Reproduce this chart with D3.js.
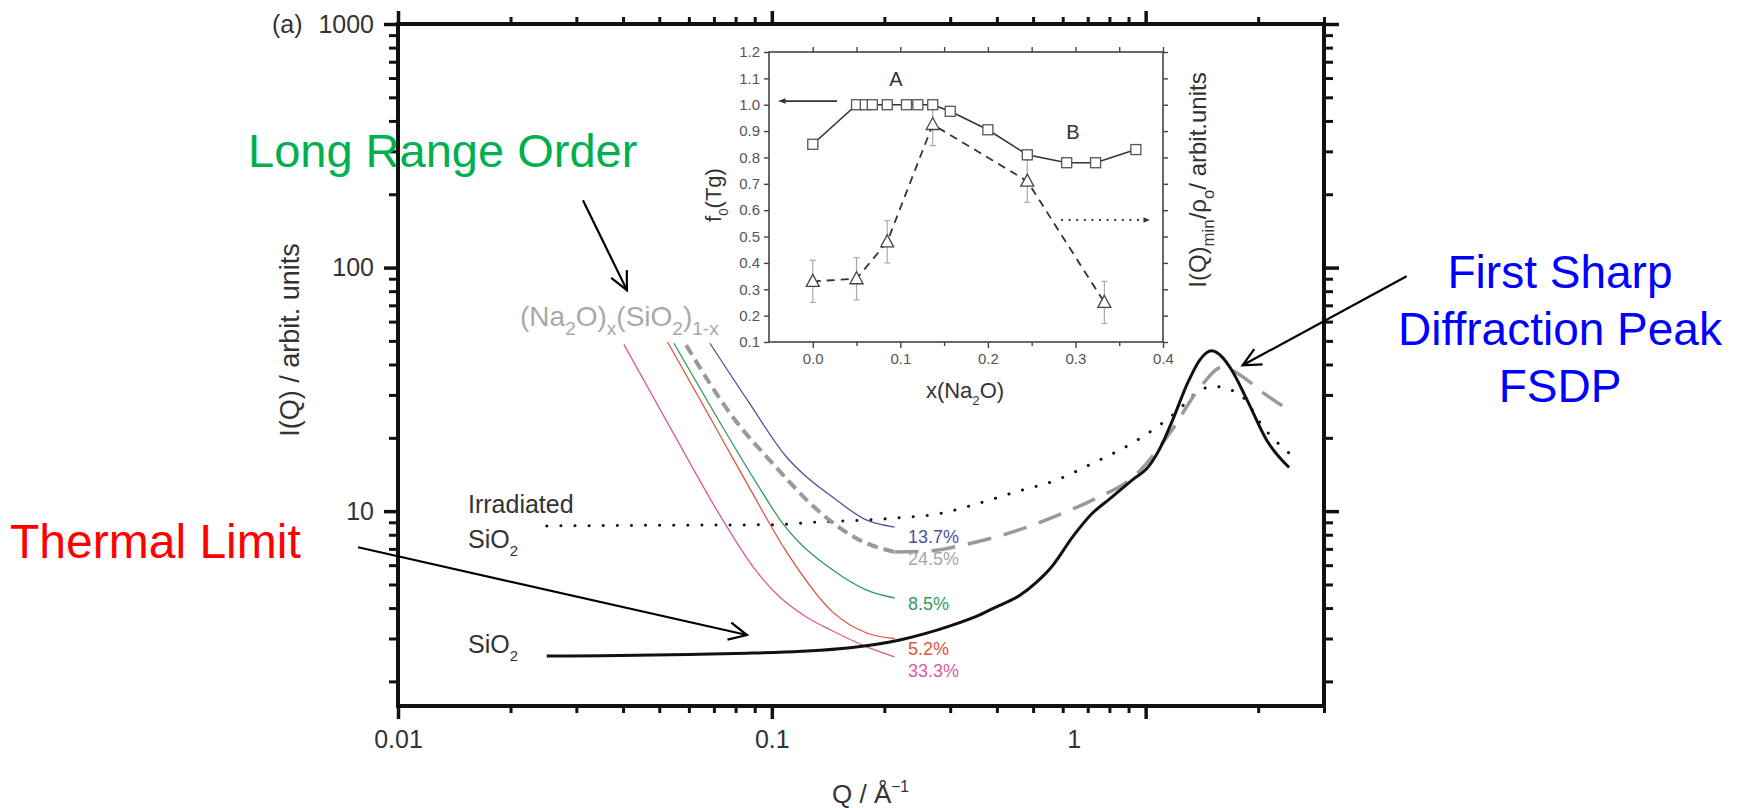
<!DOCTYPE html>
<meta charset="utf-8">
<style>
body { margin: 0; background: #fff; }
text { font-family: "Liberation Sans", Arial, sans-serif; }
</style>
<body>
<script src="https://cdn.jsdelivr.net/npm/d3@7"></script>
<script>
// ---------- main plot data : Q (1/A) and I(Q) (arbit. units) ----------
var qDomain = [0.01, 3];
var iDomain = [1.585, 1000];
var qMajor = [0.01, 0.1, 1];
var iMajor = [10, 100, 1000];

// SiO2, solid black
var silicaQ = [0.025, 0.035, 0.06, 0.086, 0.12, 0.162, 0.22, 0.30, 0.36, 0.395, 0.46, 0.51, 0.56, 0.64, 0.72, 0.80, 0.92, 1.02, 1.10, 1.18, 1.30, 1.40, 1.50, 1.60, 1.70, 1.87, 2.11, 2.42];
var silicaI = [2.54, 2.55, 2.58, 2.61, 2.66, 2.75, 2.96, 3.38, 3.75, 4.02, 4.5, 5.1, 5.9, 7.9, 9.8, 11.2, 13.4, 15.3, 18.5, 23.6, 34, 42, 45.5, 43, 37.9, 28.5, 19.5, 15.1];

// Irradiated SiO2, dotted
var irradQ = [0.025, 0.05, 0.1, 0.13, 0.213, 0.284, 0.36, 0.45, 0.576, 0.72, 0.92, 1.07, 1.2, 1.4, 1.52, 1.63, 1.82, 2.07, 2.42];
var irradI = [8.7, 8.75, 8.8, 9.0, 9.36, 9.8, 10.8, 12.0, 13.4, 15.7, 19, 22.1, 25.3, 31.4, 32.5, 32, 29.4, 22, 17.3];

// 24.5% wide angle part, long grey dashes
var wideQ = [0.213, 0.26, 0.33, 0.45, 0.6, 0.72, 0.95, 1.16, 1.4, 1.6, 1.75, 1.87, 2.1, 2.42];
var wideI = [6.8, 6.85, 7.3, 8.3, 9.8, 11.1, 14.3, 20.9, 32.3, 39, 37, 34.5, 30, 26];

// small angle curves of (Na2O)x(SiO2)1-x
var saxsNames = ["13.7%", "24.5%", "8.5%", "5.2%", "33.3%"];
var saxsColors = ["#4f4fa0", "#9a9a9a", "#2f9b60", "#e2533a", "#dc5aa0"];
var saxsQ = [
  [0.0683, 0.0872, 0.1096, 0.124, 0.1456, 0.1795, 0.213],
  [0.059, 0.0787, 0.1005, 0.1325, 0.172, 0.213],
  [0.0547, 0.0713, 0.0911, 0.1068, 0.1456, 0.1795, 0.213],
  [0.0526, 0.0683, 0.0858, 0.1096, 0.1456, 0.1795, 0.213],
  [0.0402, 0.0545, 0.0748, 0.0892, 0.105, 0.124, 0.1456, 0.1795, 0.213]
];
var saxsI = [
  [48.9, 27.7, 16.65, 13.8, 11.4, 9.18, 8.6],
  [48, 24.3, 15.7, 10.1, 7.6, 6.8],
  [48.9, 24.3, 13.0, 8.93, 5.73, 4.74, 4.4],
  [49.5, 24.3, 13.0, 6.79, 3.85, 3.16, 3.0],
  [48.4, 20.9, 8.93, 5.89, 4.44, 3.67, 3.22, 2.77, 2.52]
];

// ---------- inset data ----------
var naDomain = [-0.05, 0.4];
var fDomain = [0.1, 1.2];
var naMajor = [0, 0.1, 0.2, 0.3, 0.4];
var naMinor = [0.05, 0.15, 0.25, 0.35];
var fTicks = [0.1, 0.2, 0.3, 0.4, 0.5, 0.6, 0.7, 0.8, 0.9, 1.0, 1.1, 1.2];

var squareX = [0, 0.05, 0.06, 0.068, 0.085, 0.107, 0.12, 0.137, 0.157, 0.2, 0.245, 0.29, 0.323, 0.369];
var squareF = [0.85, 1.0, 1.0, 1.0, 1.0, 1.0, 1.0, 1.0, 0.975, 0.905, 0.81, 0.78, 0.78, 0.83];
var triX = [0, 0.05, 0.085, 0.137, 0.245, 0.333];
var triV = [0.33, 0.34, 0.48, 0.925, 0.71, 0.25];
var triErr = [0.08, 0.08, 0.08, 0.08, 0.08, 0.08];

// ---------- drawing ----------
var svg = d3.select("body").append("svg")
    .attr("width", 1744)
    .attr("height", 808);

var x = d3.scaleLog().domain(qDomain).range([398, 1324]);
var y = d3.scaleLog().domain(iDomain).range([706, 24]);

var isMajor = function(v) { return Math.abs(Math.log10(v) - Math.round(Math.log10(v))) < 1e-6; };
var qMinor = x.ticks().filter(function(v) { return !isMajor(v); });
var iMinor = y.ticks().filter(function(v) { return !isMajor(v); });
var fmt = d3.format("~g");

// subscript / superscript helper
function rich(sel, parts, size, ratio) {
  ratio = ratio || 0.6;
  var shift = 0;
  parts.forEach(function(p) {
    var t = sel.append("tspan").text(p[0]);
    var target = p[1] === "sub" ? 0.32 * size : p[1] === "sup" ? -0.42 * size : 0;
    t.attr("dy", target - shift);
    if (p[1]) t.attr("font-size", ratio * size);
    shift = target;
  });
}

function styleAxis(g, fontSize, color, width) {
  g.select(".domain").remove();
  g.selectAll(".tick line").attr("stroke", color).attr("stroke-width", width);
  g.selectAll(".tick text").attr("fill", "#333")
    .attr("font-family", "Liberation Sans, Arial, sans-serif")
    .attr("font-size", fontSize);
}

// main axes: ticks outward on all four sides
var gb = svg.append("g").attr("transform", "translate(0,706)")
    .call(d3.axisBottom(x).tickValues(qMinor).tickSize(7).tickFormat(""));
styleAxis(gb, 25, "#111", 3);
gb = svg.append("g").attr("transform", "translate(0,706)")
    .call(d3.axisBottom(x).tickValues(qMajor).tickSize(13).tickPadding(11).tickFormat(fmt));
styleAxis(gb, 25, "#111", 3.5);
// in the original figure the "1" label sits left of its tick
gb.selectAll(".tick text").filter(function(d) { return d === 1; }).attr("x", -72);

var gt = svg.append("g").attr("transform", "translate(0,24)")
    .call(d3.axisTop(x).tickValues(qMinor).tickSize(7).tickFormat(""));
styleAxis(gt, 25, "#111", 3);
gt = svg.append("g").attr("transform", "translate(0,24)")
    .call(d3.axisTop(x).tickValues(qMajor).tickSize(13).tickFormat(""));
styleAxis(gt, 25, "#111", 3.5);

var gl = svg.append("g").attr("transform", "translate(398,0)")
    .call(d3.axisLeft(y).tickValues(iMinor).tickSize(9).tickFormat(""));
styleAxis(gl, 25, "#111", 3);
gl = svg.append("g").attr("transform", "translate(398,0)")
    .call(d3.axisLeft(y).tickValues(iMajor).tickSize(14).tickPadding(10).tickFormat(fmt));
styleAxis(gl, 25, "#111", 3.5);

var gr = svg.append("g").attr("transform", "translate(1324,0)")
    .call(d3.axisRight(y).tickValues(iMinor).tickSize(9).tickFormat(""));
styleAxis(gr, 25, "#111", 3);
gr = svg.append("g").attr("transform", "translate(1324,0)")
    .call(d3.axisRight(y).tickValues(iMajor).tickSize(15).tickFormat(""));
styleAxis(gr, 25, "#111", 3.5);

svg.append("rect")
    .attr("x", x(qDomain[0])).attr("y", y(iDomain[1]))
    .attr("width", x(qDomain[1]) - x(qDomain[0]))
    .attr("height", y(iDomain[0]) - y(iDomain[1]))
    .attr("fill", "none").attr("stroke", "#111").attr("stroke-width", 4);

svg.append("text").attr("x", 272).attr("y", 33).attr("font-size", 25).attr("fill", "#333").text("(a)");

// axis titles
svg.append("text").attr("transform", "translate(299,340) rotate(-90)")
    .attr("text-anchor", "middle").attr("font-size", 27).attr("fill", "#333")
    .text("I(Q) / arbit. units");
var xt = svg.append("text").attr("x", 832).attr("y", 803).attr("font-size", 26).attr("fill", "#333");
rich(xt, [["Q / Å"], ["\u22121", "sup"]], 26);

// curves
var line = d3.line()
    .x(function(d) { return x(d[0]); })
    .y(function(d) { return y(d[1]); })
    .curve(d3.curveMonotoneX);

svg.append("path").datum(d3.zip(irradQ, irradI))
    .attr("d", line).attr("fill", "none").attr("stroke", "#111")
    .attr("stroke-width", 3).attr("stroke-linecap", "round").attr("stroke-dasharray", "0.1,14");

svg.append("path").datum(d3.zip(wideQ, wideI))
    .attr("d", line).attr("fill", "none").attr("stroke", "#9a9a9a")
    .attr("stroke-width", 3.5).attr("stroke-dasharray", "24,13");

saxsQ.forEach(function(qs, k) {
  var p = svg.append("path").datum(d3.zip(qs, saxsI[k]))
      .attr("d", line).attr("fill", "none").attr("stroke", saxsColors[k])
      .attr("stroke-width", k === 1 ? 4 : 1.3);
  if (k === 1) p.attr("stroke-dasharray", "11,6");
});

svg.append("path").datum(d3.zip(silicaQ, silicaI))
    .attr("d", line).attr("fill", "none").attr("stroke", "#111").attr("stroke-width", 3);

// series labels
var pctY = [543, 565, 610, 655, 677];
saxsNames.forEach(function(n, k) {
  svg.append("text").attr("x", 908).attr("y", pctY[k]).attr("font-size", 18)
      .attr("fill", k === 1 ? "#a6a6a6" : saxsColors[k]).text(n);
});

var lab = svg.append("g").attr("fill", "#333").attr("font-size", 25);
lab.append("text").attr("x", 468).attr("y", 513).text("Irradiated");
rich(lab.append("text").attr("x", 468).attr("y", 548), [["SiO"], ["2", "sub"]], 25);
rich(lab.append("text").attr("x", 468).attr("y", 653), [["SiO"], ["2", "sub"]], 25);

var formula = svg.append("text").attr("x", 520).attr("y", 326).attr("font-size", 28).attr("fill", "#a9a9a9");
rich(formula, [["(Na"], ["2", "sub"], ["O)"], ["x", "sub"], ["(SiO"], ["2", "sub"], [")"], ["1-x", "sub"]], 28, 0.68);

// ---------- inset ----------
var ix = d3.scaleLinear().domain(naDomain).range([769, 1163]);
var iy = d3.scaleLinear().domain(fDomain).range([342, 52]);
var inset = svg.append("g");

inset.append("rect").attr("x", ix(naDomain[0])).attr("y", iy(fDomain[1]))
    .attr("width", ix(naDomain[1]) - ix(naDomain[0])).attr("height", iy(fDomain[0]) - iy(fDomain[1]))
    .attr("fill", "#fff").attr("stroke", "#444").attr("stroke-width", 1.6);

var ia = inset.append("g").attr("transform", "translate(769,0)")
    .call(d3.axisLeft(iy).tickValues(fTicks).tickSize(5).tickPadding(4).tickFormat(d3.format(".1f")));
styleAxis(ia, 15, "#444", 1.4);
ia.selectAll(".tick text").attr("fill", "#555");
ia = inset.append("g").attr("transform", "translate(1163,0)")
    .call(d3.axisRight(iy).tickValues(fTicks).tickSize(5).tickFormat(""));
styleAxis(ia, 15, "#444", 1.4);
ia = inset.append("g").attr("transform", "translate(0,342)")
    .call(d3.axisBottom(ix).tickValues(naMajor).tickSize(6).tickPadding(5).tickFormat(d3.format(".1f")));
styleAxis(ia, 15, "#444", 1.4);
ia.selectAll(".tick text").attr("fill", "#555");
ia = inset.append("g").attr("transform", "translate(0,342)")
    .call(d3.axisBottom(ix).tickValues(naMinor).tickSize(4).tickFormat(""));
styleAxis(ia, 15, "#444", 1.4);
ia = inset.append("g").attr("transform", "translate(0,52)")
    .call(d3.axisTop(ix).tickValues(naMajor.concat(naMinor)).tickSize(5).tickFormat(""));
styleAxis(ia, 15, "#444", 1.4);

var iline = d3.line().x(function(d) { return ix(d[0]); }).y(function(d) { return iy(d[1]); });

inset.append("path").datum(d3.zip(squareX, squareF)).attr("d", iline)
    .attr("fill", "none").attr("stroke", "#333").attr("stroke-width", 1.6);
inset.append("path").datum(d3.zip(triX, triV)).attr("d", iline)
    .attr("fill", "none").attr("stroke", "#333").attr("stroke-width", 1.8).attr("stroke-dasharray", "8,6");

// error bars
var eb = inset.selectAll(".eb").data(d3.zip(triX, triV, triErr)).join("g")
    .attr("stroke", "#aaa").attr("stroke-width", 1.2);
eb.append("line").attr("x1", function(d) { return ix(d[0]); }).attr("x2", function(d) { return ix(d[0]); })
    .attr("y1", function(d) { return iy(d[1] - d[2]); }).attr("y2", function(d) { return iy(d[1] + d[2]); });
eb.append("line").attr("x1", function(d) { return ix(d[0]) - 3; }).attr("x2", function(d) { return ix(d[0]) + 3; })
    .attr("y1", function(d) { return iy(d[1] - d[2]); }).attr("y2", function(d) { return iy(d[1] - d[2]); });
eb.append("line").attr("x1", function(d) { return ix(d[0]) - 3; }).attr("x2", function(d) { return ix(d[0]) + 3; })
    .attr("y1", function(d) { return iy(d[1] + d[2]); }).attr("y2", function(d) { return iy(d[1] + d[2]); });

inset.selectAll(".sq").data(d3.zip(squareX, squareF)).join("rect")
    .attr("x", function(d) { return ix(d[0]) - 5; }).attr("y", function(d) { return iy(d[1]) - 5; })
    .attr("width", 10).attr("height", 10)
    .attr("fill", "#fff").attr("stroke", "#555").attr("stroke-width", 1.3);

inset.selectAll(".tri").data(d3.zip(triX, triV)).join("path")
    .attr("transform", function(d) { return "translate(" + ix(d[0]) + "," + iy(d[1]) + ")"; })
    .attr("d", "M0,-7L6.5,5L-6.5,5Z")
    .attr("fill", "#fff").attr("stroke", "#444").attr("stroke-width", 1.3);

// arrow head helper
function head(g, x1, y1, x2, y2, len, ang, filled) {
  var a = Math.atan2(y2 - y1, x2 - x1);
  var p = "M" + (x2 - len * Math.cos(a - ang)) + "," + (y2 - len * Math.sin(a - ang)) +
          "L" + x2 + "," + y2 +
          "L" + (x2 - len * Math.cos(a + ang)) + "," + (y2 - len * Math.sin(a + ang));
  g.append("path").attr("d", filled ? p + "Z" : p)
      .attr("fill", filled ? "#333" : "none").attr("stroke", filled ? "none" : "#000")
      .attr("stroke-width", 2.2);
}
// inset arrows (in inset data units)
inset.append("line").attr("x1", ix(0.0277)).attr("x2", ix(-0.036)).attr("y1", iy(1.014)).attr("y2", iy(1.014))
    .attr("stroke", "#333").attr("stroke-width", 1.8);
head(inset, ix(0.0277), iy(1.014), ix(-0.0397), iy(1.014), 8, 0.35, true);
inset.append("line").attr("x1", ix(0.2846)).attr("x2", ix(0.378)).attr("y1", iy(0.563)).attr("y2", iy(0.563))
    .attr("stroke", "#333").attr("stroke-width", 2.2).attr("stroke-linecap", "round").attr("stroke-dasharray", "0.1,7.5");
head(inset, ix(0.2846), iy(0.563), ix(0.385), iy(0.563), 7, 0.4, true);

inset.append("text").attr("x", 896).attr("y", 86).attr("text-anchor", "middle").attr("font-size", 20).attr("fill", "#333").text("A");
inset.append("text").attr("x", 1073).attr("y", 139).attr("text-anchor", "middle").attr("font-size", 20).attr("fill", "#333").text("B");

var ixl = inset.append("text").attr("x", 965).attr("y", 398).attr("text-anchor", "middle").attr("font-size", 22).attr("fill", "#333");
rich(ixl, [["x(Na"], ["2", "sub"], ["O)"]], 22);
var iyl = inset.append("text").attr("transform", "translate(721,195) rotate(-90)").attr("text-anchor", "middle").attr("font-size", 22).attr("fill", "#333");
rich(iyl, [["f"], ["0", "sub"], ["(Tg)"]], 22);
var iyr = inset.append("text").attr("transform", "translate(1206,180) rotate(-90)").attr("text-anchor", "middle").attr("font-size", 24).attr("fill", "#333");
rich(iyr, [["I(Q)"], ["min", "sub"], ["/\u03c1"], ["o", "sub"], ["/ arbit.units"]], 24, 0.7);

// ---------- slide annotations ----------
var arrows = [
  {from: [0.03124, 189], to: [0.04096, 80.8]},
  {from: [0.00782, 7.11], to: [0.0858, 3.10]},
  {from: [4.99, 92.2], to: [1.817, 39.7]}
];
var notes = svg.append("g");
arrows.forEach(function(a) {
  var x1 = x(a.from[0]), y1 = y(a.from[1]), x2 = x(a.to[0]), y2 = y(a.to[1]);
  notes.append("line").attr("x1", x1).attr("y1", y1).attr("x2", x2).attr("y2", y2)
      .attr("stroke", "#000").attr("stroke-width", 2.2);
  head(notes, x1, y1, x2, y2, 20, 0.45, false);
});

notes.append("text").attr("x", 248).attr("y", 167).attr("font-size", 47).attr("fill", "#00b050").text("Long Range Order");
notes.append("text").attr("x", 10).attr("y", 558).attr("font-size", 48).attr("fill", "#ff0000").text("Thermal Limit");
var fsdp = ["First Sharp", "Diffraction Peak", "FSDP"];
fsdp.forEach(function(s, k) {
  notes.append("text").attr("x", 1560).attr("y", 288 + k * 57).attr("text-anchor", "middle")
      .attr("font-size", 46).attr("fill", "#0000ff").text(s);
});
</script>
</body>
